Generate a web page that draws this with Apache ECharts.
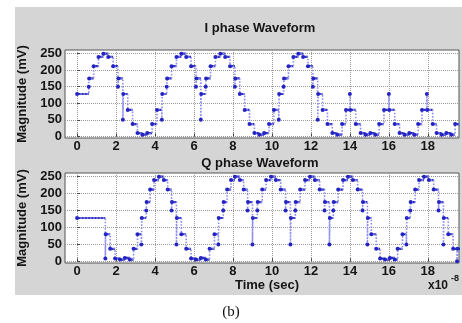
<!DOCTYPE html>
<html>
<head>
<meta charset="utf-8">
<script src="https://cdn.jsdelivr.net/npm/echarts@6/dist/echarts.min.js"></script>
<style>
html, body { margin: 0; padding: 0; background: #fff; }
#chart { width: 462px; height: 323px; }
</style>
</head>
<body>
<div id="chart"></div>
<script>
var xTicks = [0, 2, 4, 6, 8, 10, 12, 14, 16, 18];
var yTicks = [0, 50, 100, 150, 200, 250];

// [time (x1e-8 s), magnitude (mV)]
var iWave = [
    [0, 128],
    [0.6, 150], [0.62, 175], [0.85, 212], [1.1, 240], [1.35, 250], [1.6, 240], [1.85, 212],
    [2.1, 150], [2.12, 175], [2.35, 50], [2.37, 128],
    [2.6, 80], [2.85, 37], [3.1, 10], [3.35, 5], [3.6, 10], [3.85, 37], [4.1, 80],
    [4.35, 50], [4.37, 128],
    [4.6, 150], [4.62, 175], [4.85, 212], [5.1, 240], [5.35, 250], [5.6, 240], [5.85, 212],
    [6.1, 150], [6.12, 175], [6.35, 50], [6.37, 128],
    [6.6, 150], [6.62, 175], [6.85, 212], [7.1, 240], [7.35, 250], [7.6, 240], [7.85, 212],
    [8.1, 150], [8.12, 175], [8.35, 128],
    [8.6, 80], [8.85, 37], [9.1, 10], [9.35, 5], [9.6, 10], [9.85, 37], [10.1, 80],
    [10.35, 50], [10.37, 128],
    [10.6, 150], [10.62, 175], [10.85, 212], [11.1, 240], [11.35, 250], [11.6, 240], [11.85, 212],
    [12.1, 150], [12.12, 175], [12.35, 50], [12.37, 128],
    [12.6, 80], [12.85, 37], [13.1, 10], [13.35, 5], [13.6, 37], [13.8, 80],
    [14.0, 128], [14.02, 80],
    [14.3, 37], [14.55, 10], [14.8, 5], [15.05, 10], [15.3, 5], [15.5, 37], [15.75, 80],
    [16.0, 128], [16.02, 80],
    [16.3, 37], [16.55, 10], [16.8, 5], [17.05, 10], [17.3, 5], [17.5, 37], [17.7, 80],
    [17.95, 128], [17.97, 80],
    [18.25, 37], [18.45, 10], [18.7, 5], [18.95, 10], [19.2, 5], [19.4, 37], [19.65, 37]
];

var qWave = [
    [0, 128],
    [1.45, 8], [1.47, 80], [1.7, 37],
    [1.95, 8], [2.2, 5], [2.45, 10], [2.7, 5], [2.9, 37], [3.1, 80],
    [3.3, 50], [3.32, 128],
    [3.55, 150], [3.57, 175], [3.75, 212], [3.95, 240], [4.2, 250], [4.45, 240], [4.65, 212],
    [4.85, 150], [4.87, 175], [5.1, 50], [5.12, 128],
    [5.35, 80], [5.6, 37], [5.85, 8], [6.1, 5], [6.35, 10], [6.6, 5], [6.8, 37], [7.05, 80],
    [7.25, 50], [7.27, 128],
    [7.5, 150], [7.52, 175], [7.7, 212], [7.9, 240], [8.1, 250], [8.35, 240], [8.55, 212],
    [8.75, 150], [8.77, 175], [9.0, 50], [9.02, 128],
    [9.25, 150], [9.27, 175], [9.5, 212], [9.7, 240], [9.95, 250], [10.2, 240], [10.45, 212],
    [10.7, 150], [10.72, 175], [10.95, 50], [10.97, 128],
    [11.2, 150], [11.22, 175], [11.45, 212], [11.7, 240], [11.95, 250], [12.2, 240], [12.45, 212],
    [12.7, 150], [12.72, 175], [12.95, 50], [12.97, 128],
    [13.15, 150], [13.17, 175], [13.4, 212], [13.65, 240], [13.9, 250], [14.15, 240], [14.4, 212],
    [14.65, 150], [14.67, 175], [14.9, 50], [14.92, 128],
    [15.1, 80], [15.35, 37], [15.55, 8], [15.8, 5], [16.05, 10], [16.3, 5], [16.45, 37], [16.7, 80],
    [16.9, 50], [16.92, 128],
    [17.1, 150], [17.12, 175], [17.35, 212], [17.55, 240], [17.8, 250], [18.05, 240], [18.3, 212],
    [18.55, 150], [18.57, 175], [18.8, 50], [18.82, 128],
    [19.05, 80], [19.3, 37], [19.5, 0], [19.52, 37], [19.65, 37]
];

// thick dark parts where the level is held
function holdSegments(wave) {
    var out = [];
    for (var i = 0; i < wave.length - 1; i++) {
        var t0 = wave[i][0], t1 = wave[i + 1][0];
        if (t1 - t0 > 0.05) {
            out.push([t0, wave[i][1]], [t1, wave[i][1]], null);
        }
    }
    return out;
}

var font = 'Liberation Sans, Arial, sans-serif';
var labelStyle = { color: '#151515', fontWeight: 'bold', fontSize: 13, fontFamily: font };

function xAxis(idx) {
    return {
        type: 'value', gridIndex: idx, min: -0.62, max: 19.6,
        axisLine: { show: false },
        axisTick: { show: true, inside: true, length: 3, lineStyle: { color: '#444' }, customValues: xTicks },
        axisLabel: Object.assign({ margin: 2, customValues: xTicks }, labelStyle),
        splitLine: { show: true, lineStyle: { color: '#999', type: 'dotted', width: 1 } }
    };
}
function yAxis(idx) {
    return {
        type: 'value', gridIndex: idx, min: -5, max: 261,
        name: 'Magnitude (mV)', nameLocation: 'middle', nameGap: 26,
        nameTextStyle: { color: '#151515', fontWeight: 'bold', fontSize: 13, fontFamily: font },
        axisLine: { show: false },
        axisTick: { show: true, inside: true, length: 3, lineStyle: { color: '#444' }, customValues: yTicks },
        axisLabel: Object.assign({ margin: 3, customValues: yTicks }, labelStyle),
        splitLine: { show: true, lineStyle: { color: '#999', type: 'dotted', width: 1 } }
    };
}
function stepSeries(idx, wave) {
    return [{
        type: 'line', xAxisIndex: idx, yAxisIndex: idx, data: wave, step: 'end',
        symbol: 'circle', symbolSize: 4, showSymbol: true,
        itemStyle: { color: '#2424c4' },
        lineStyle: { color: '#8e8ef0', width: 1.6, type: 'dotted' },
        animation: false, z: 3
    }, {
        type: 'line', xAxisIndex: idx, yAxisIndex: idx, data: holdSegments(wave),
        symbol: 'none', connectNulls: false,
        lineStyle: { color: '#3030bc', width: 2.2 },
        animation: false, z: 2
    }];
}

var chart = echarts.init(document.getElementById('chart'));
chart.setOption({
    animation: false,
    grid: [
        { left: 65, top: 50, width: 394, height: 88, show: true, backgroundColor: '#fff', borderColor: '#555', borderWidth: 1 },
        { left: 65, top: 173, width: 394, height: 90, show: true, backgroundColor: '#fff', borderColor: '#555', borderWidth: 1 }
    ],
    xAxis: [xAxis(0), xAxis(1)],
    yAxis: [yAxis(0), yAxis(1)],
    series: stepSeries(0, iWave).concat(stepSeries(1, qWave)),
    graphic: [
        { type: 'rect', left: 15, top: 7, z: -10, shape: { width: 447, height: 288 }, style: { fill: '#d5d5d5' } },
        { type: 'text', x: 260, y: 28, style: { text: 'I phase Waveform', fill: '#151515', font: 'bold 13px ' + font, textAlign: 'center', textVerticalAlign: 'middle' } },
        { type: 'text', x: 260, y: 163, style: { text: 'Q phase Waveform', fill: '#151515', font: 'bold 13px ' + font, textAlign: 'center', textVerticalAlign: 'middle' } },
        { type: 'text', x: 267, y: 285, style: { text: 'Time (sec)', fill: '#151515', font: 'bold 13px ' + font, textAlign: 'center', textVerticalAlign: 'middle' } },
        { type: 'text', x: 428, y: 286, style: { text: 'x10', fill: '#151515', font: 'bold 12px ' + font, textAlign: 'left', textVerticalAlign: 'middle' } },
        { type: 'text', x: 451, y: 279, style: { text: '-8', fill: '#151515', font: 'bold 9px ' + font, textAlign: 'left', textVerticalAlign: 'middle' } },
        { type: 'text', x: 231, y: 312, style: { text: '(b)', fill: '#111', font: '15px Liberation Serif, Times New Roman, serif', textAlign: 'center', textVerticalAlign: 'middle' } }
    ]
});
</script>
</body>
</html>
